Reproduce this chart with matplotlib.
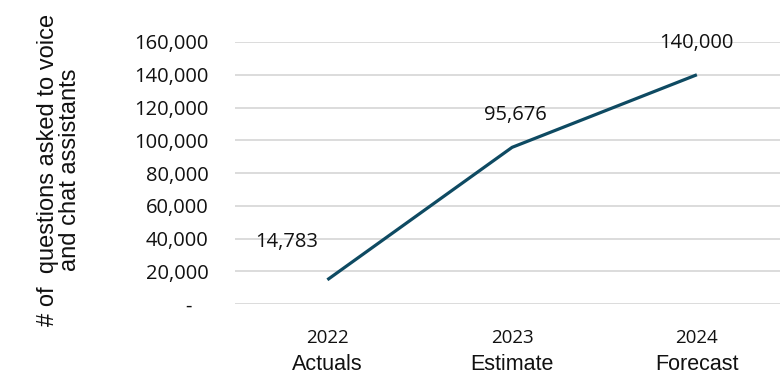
import matplotlib.pyplot as plt
from matplotlib.ticker import FuncFormatter

years = ['2022', '2023', '2024']
stages = ['Actuals', 'Estimate', 'Forecast']
questions = [14783, 95676, 140000]
# label offsets in pixels (dx, dy) relative to each point
label_offsets = [(-41, 38), (3, 32), (-1, 32)]

line_col = '#0e4a62'
num_font = 'Open Sans'
txt_font = 'Liberation Sans'

fig = plt.figure(figsize=(7.84, 3.74), dpi=100)
ax = fig.add_axes([235/784, 1 - 304/374, 545/784, 262/374])

x = list(range(len(questions)))
ax.plot(x, questions, color=line_col, linewidth=2.3, solid_capstyle='butt', zorder=3)

for xi, v, (dx, dy) in zip(x, questions, label_offsets):
    ax.annotate(f'{v:,}', (xi, v), xytext=(dx * 0.72, dy * 0.72), textcoords='offset points',
                ha='center', va='center', fontsize=14.5, family=num_font, color='#111111')

ax.set_xlim(-0.5, 2.45)
ax.set_ylim(0, 160000)
ax.set_yticks(range(0, 160001, 20000))
# accounting style: zero shown as a dash
ax.yaxis.set_major_formatter(FuncFormatter(lambda v, p: '-   ' if v == 0 else f'{int(v):,}'))
ax.set_xticks(x)
ax.set_xticklabels(['' for _ in x])
for xi, yr, st in zip(x, years, stages):
    ax.annotate(yr, (xi, 0), xytext=(0, -34 * 0.72), textcoords='offset points',
                ha='center', va='center', fontsize=13.5, family=num_font, color='#111111',
                annotation_clip=False)
    ax.annotate(st, (xi, 0), xytext=(0, -60 * 0.72), textcoords='offset points',
                ha='center', va='center', fontsize=15.5, family=txt_font, color='#111111',
                annotation_clip=False)

ax.grid(axis='y', color='#d9d9d9', linewidth=1.3)
ax.set_axisbelow(True)
ax.tick_params(length=0, pad=19)
ax.tick_params(axis='y', labelsize=14.5, labelcolor='#111111')
for lbl in ax.get_yticklabels():
    lbl.set_family(num_font)
for s in ax.spines.values():
    s.set_visible(False)

fig.text(59/784, 1 - 170/374, '# of  questions asked to voice\nand chat assistants',
         rotation=90, ha='center', va='center', multialignment='center',
         fontsize=17, family=txt_font, color='#111111', linespacing=1.0)

fig.savefig('out.png', dpi=100)
